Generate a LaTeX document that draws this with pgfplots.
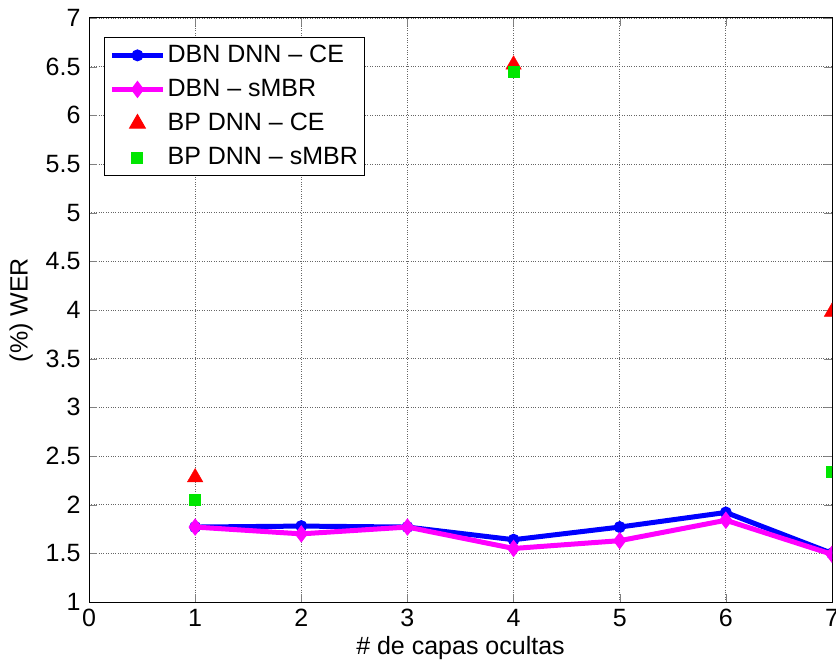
\documentclass[border=0pt]{standalone}
\usepackage{pgfplots}
\pgfplotsset{compat=1.18}
\usepackage{fontspec}
\setmainfont{Liberation Sans}
\definecolor{mag}{RGB}{255,0,255}
\definecolor{grn}{RGB}{0,230,0}
\begin{document}
\fontsize{25}{29}\selectfont
\begin{tikzpicture}
\begin{axis}[
  scale only axis,
  width=743pt, height=584pt,
  xmin=0, xmax=7, ymin=1, ymax=7,
  xtick={0,1,...,7},
  ytick={1,1.5,...,7},
  yticklabels={1,1.5,2,2.5,3,3.5,4,4.5,5,5.5,6,6.5,7},
  tick align=inside,
  tick pos=both,
  major tick length=8pt,
  grid=major,
  major grid style={dotted, black!60, line width=0.8pt},
  axis line style={line width=1pt},
  /pgf/number format/assume math mode=true,
  ticklabel style={font=\fontsize{25}{29}\selectfont},
  xticklabel style={yshift=1pt},
  xlabel={\# de capas ocultas},
  ylabel={(\%) WER},
  label style={font=\fontsize{25}{29}\selectfont},
  xlabel style={yshift=8pt},
  ylabel style={yshift=-4pt},
  legend style={at={(0.02,0.967)}, anchor=north west, draw=black, line width=1pt,
    font=\fontsize{25}{29}\selectfont, row sep=9pt, inner xsep=5pt, inner ysep=5pt},
  legend cell align=left,
  legend image code/.code={
    \draw[mark repeat=2,mark phase=2] plot coordinates {(0cm,0cm) (0.9cm,0cm) (1.8cm,0cm)};
  },
  clip marker paths=true,
]
\addplot[blue, line width=5pt, mark=*, mark size=5.5pt, mark options={solid, line width=1pt}]
 coordinates {(1,1.77) (2,1.78) (3,1.77) (4,1.64) (5,1.77) (6,1.92) (7,1.50)};
\addlegendentry{DBN DNN -- CE}
\addplot[mag, line width=5pt, mark=diamond*, mark size=8pt, mark options={solid, line width=1pt}]
 coordinates {(1,1.77) (2,1.70) (3,1.77) (4,1.55) (5,1.63) (6,1.84) (7,1.49)};
\addlegendentry{DBN -- sMBR}
\addplot[only marks, red, mark=triangle*, mark size=9pt]
 coordinates {(1,2.28) (4,6.52) (7,3.98)};
\addlegendentry{BP DNN -- CE}
\addplot[only marks, grn, mark=square*, mark size=5.5pt]
 coordinates {(1,2.05) (4,6.45) (7,2.34)};
\addlegendentry{BP DNN -- sMBR}
\end{axis}
\pgfresetboundingbox
\path ([xshift=-89pt,yshift=-62pt]current axis.south west) rectangle ([xshift=4pt,yshift=18pt]current axis.north east);
\end{tikzpicture}
\end{document}
